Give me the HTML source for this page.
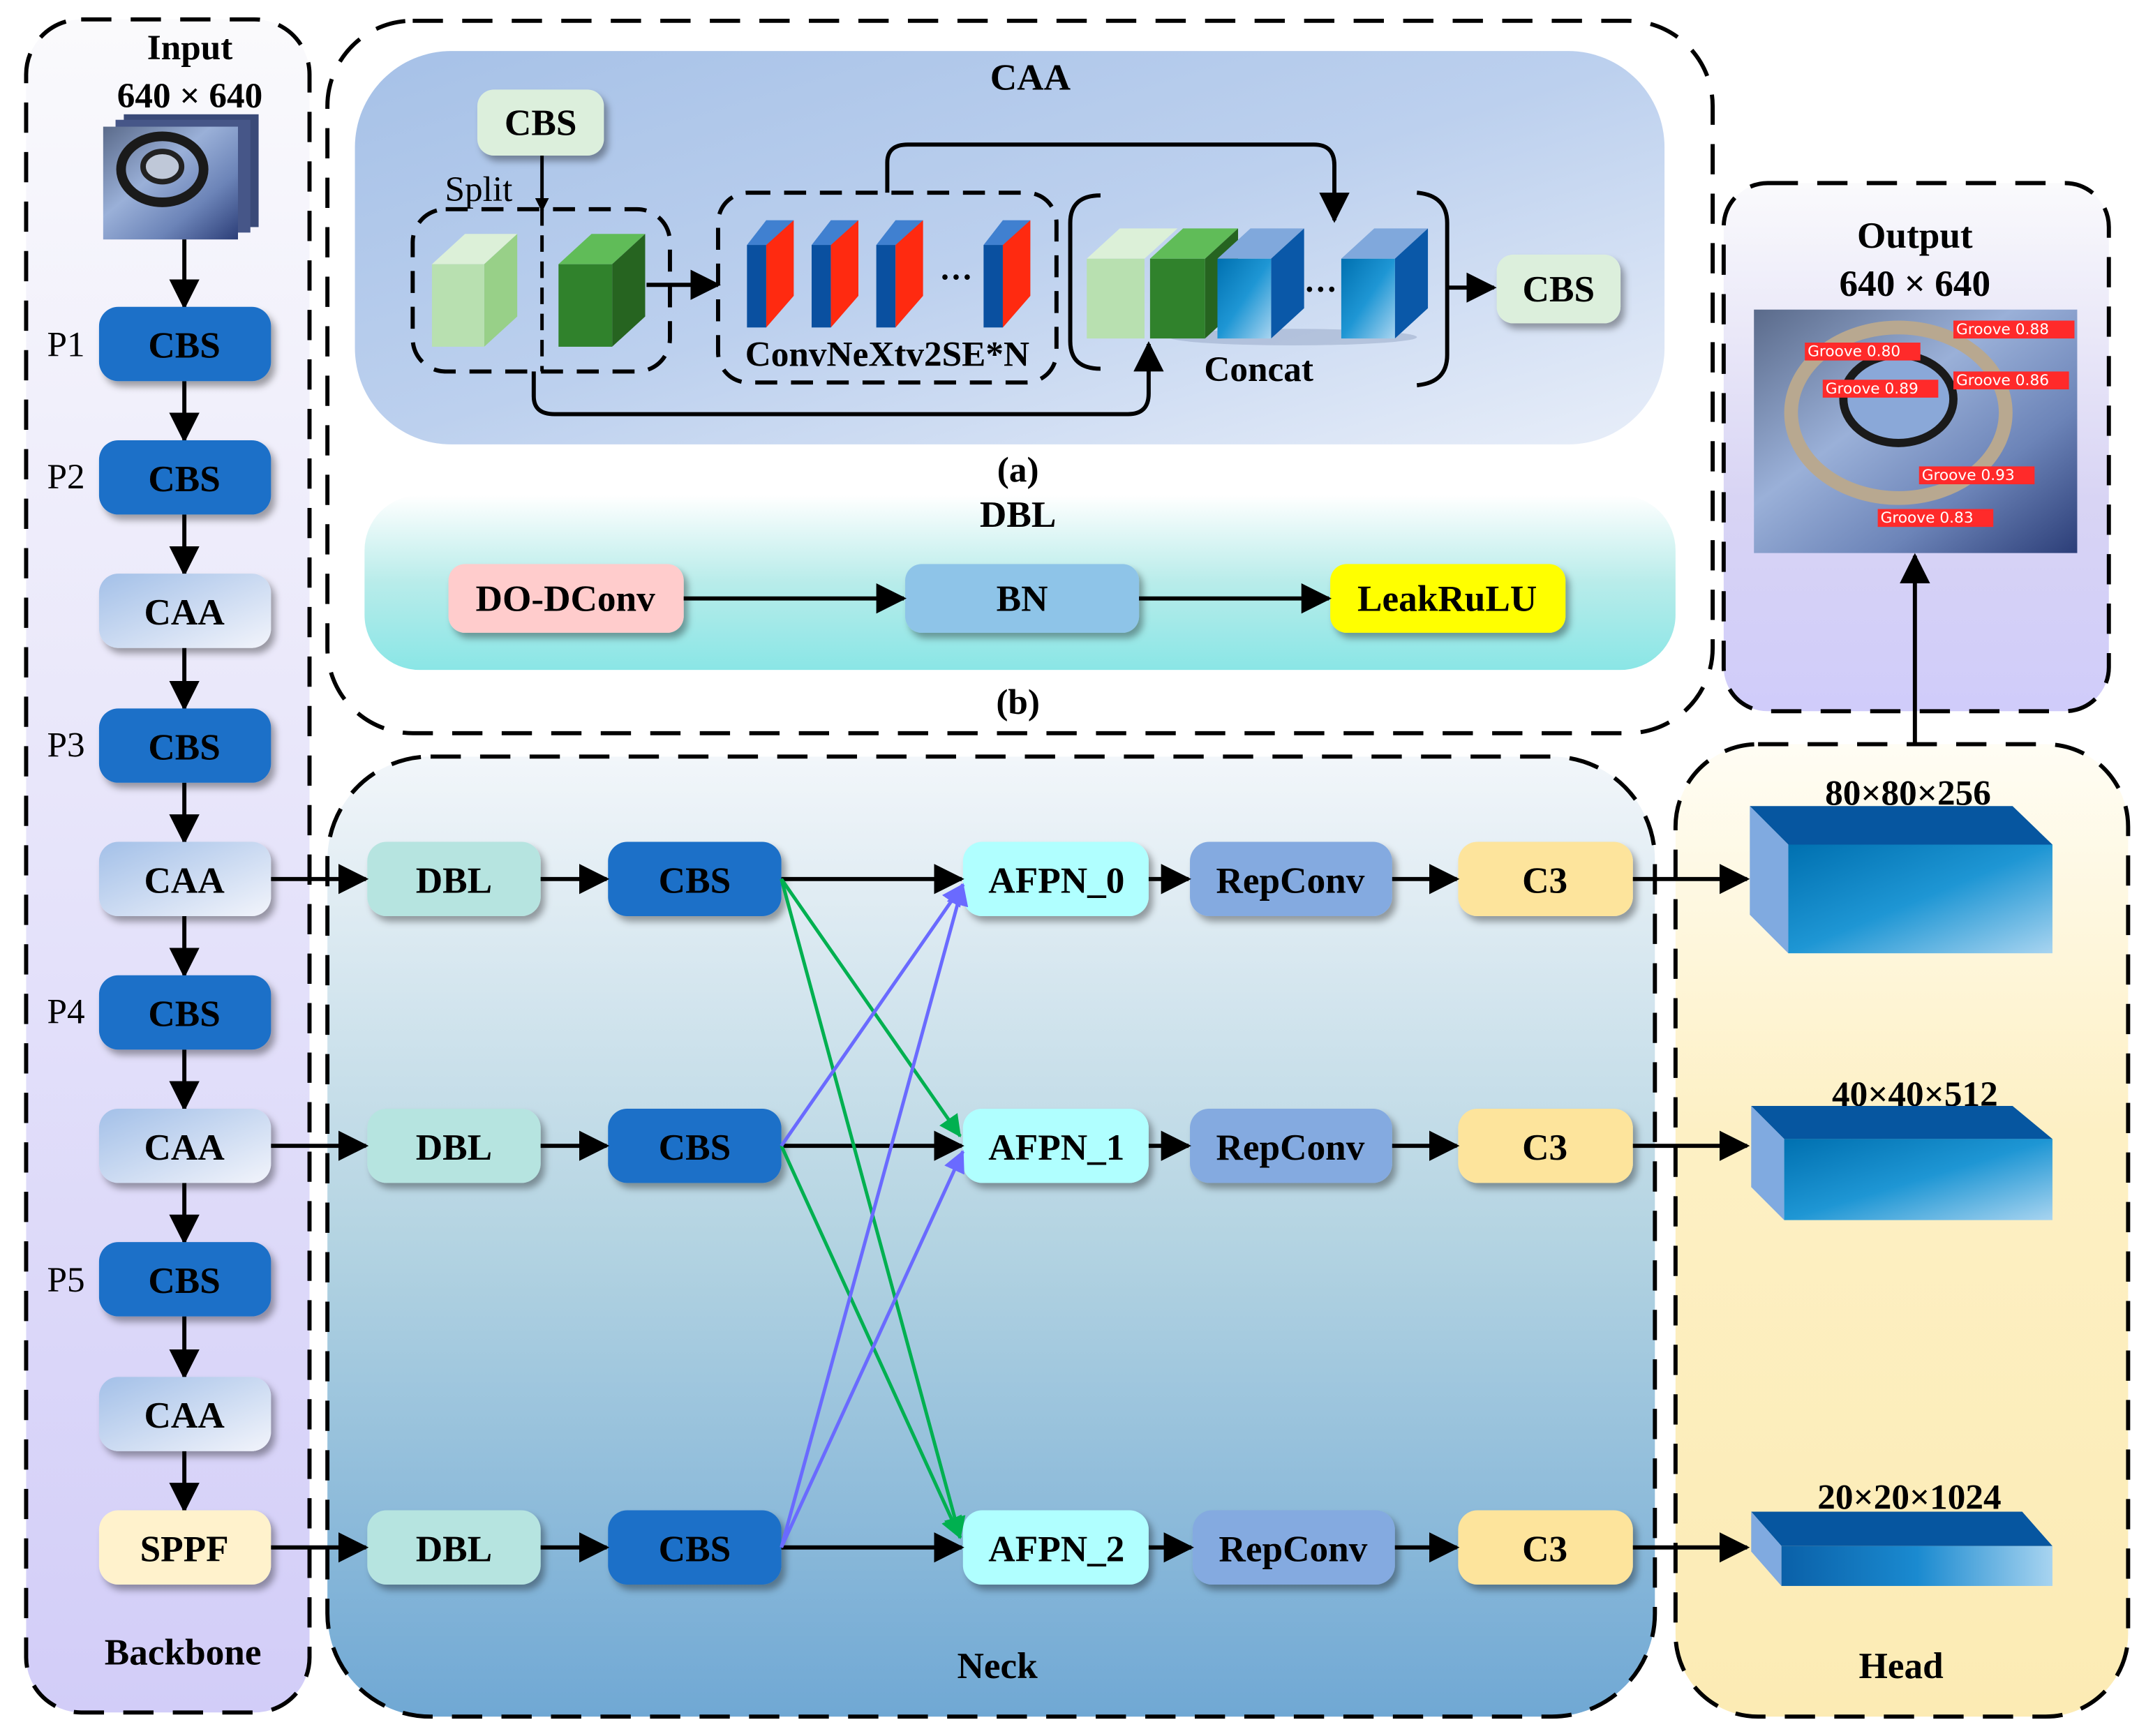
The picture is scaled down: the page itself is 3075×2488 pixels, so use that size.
<!DOCTYPE html>
<html><head><meta charset="utf-8"><style>
html,body{margin:0;padding:0;background:#fff}
svg{display:block}
text{font-family:"Liberation Serif",serif;font-weight:bold;fill:#000}
</style></head><body>
<svg width="3075" height="2488" viewBox="0 0 1560 1262" xmlns="http://www.w3.org/2000/svg">
<defs>
<linearGradient id="gBack" x1="0" y1="0" x2="0" y2="1"><stop offset="0" stop-color="#fafafc"/><stop offset="1" stop-color="#d2cdf8"/></linearGradient>
<linearGradient id="gCAA" x1="0" y1="0" x2="1" y2="1"><stop offset="0" stop-color="#a6c1e7"/><stop offset="0.5" stop-color="#bcd0ee"/><stop offset="1" stop-color="#e8eef9"/></linearGradient>
<linearGradient id="gDBL" x1="0" y1="0" x2="0" y2="1"><stop offset="0" stop-color="#ffffff"/><stop offset="0.5" stop-color="#b8ecea"/><stop offset="1" stop-color="#8ae6e6"/></linearGradient>
<linearGradient id="gOut" x1="0" y1="0" x2="0" y2="1"><stop offset="0" stop-color="#fafafc"/><stop offset="0.6" stop-color="#d8d4f4"/><stop offset="1" stop-color="#d0ccfa"/></linearGradient>
<linearGradient id="gNeck" x1="0" y1="0" x2="0" y2="1"><stop offset="0" stop-color="#f2f6fa"/><stop offset="0.5" stop-color="#b4d4e2"/><stop offset="1" stop-color="#70a8d4"/></linearGradient>
<linearGradient id="gHead" x1="0" y1="0" x2="0" y2="1"><stop offset="0" stop-color="#fffdf4"/><stop offset="0.4" stop-color="#fdf0c4"/><stop offset="1" stop-color="#fcebb4"/></linearGradient>
<linearGradient id="gCaaBox" x1="0" y1="0" x2="1" y2="1"><stop offset="0" stop-color="#a3c0e8"/><stop offset="1" stop-color="#f2f4fb"/></linearGradient>
<linearGradient id="gFront" x1="0" y1="0" x2="1" y2="1"><stop offset="0" stop-color="#0070b0"/><stop offset="0.5" stop-color="#1e96d4"/><stop offset="1" stop-color="#a8d4f0"/></linearGradient>
<linearGradient id="gFront2" x1="0" y1="0" x2="1" y2="0"><stop offset="0" stop-color="#0a60a8"/><stop offset="0.5" stop-color="#1a8ad0"/><stop offset="1" stop-color="#a8d4f0"/></linearGradient>
<linearGradient id="gImg" x1="0" y1="0" x2="1" y2="1"><stop offset="0" stop-color="#5a6a8a"/><stop offset="0.4" stop-color="#9ab0d8"/><stop offset="0.7" stop-color="#6c84b8"/><stop offset="1" stop-color="#2c3e78"/></linearGradient>
<filter id="sh" x="-20%" y="-20%" width="150%" height="160%"><feDropShadow dx="3" dy="4" stdDeviation="2.5" flood-color="#000" flood-opacity="0.35"/></filter>
<marker id="ar" markerWidth="10" markerHeight="10" refX="9" refY="5" orient="auto" markerUnits="userSpaceOnUse" viewBox="0 0 10 10"><path d="M0,0 L10,5 L0,10 z" fill="#000"/></marker>
<marker id="arB" markerWidth="22" markerHeight="22" refX="20" refY="11" orient="auto" markerUnits="userSpaceOnUse" viewBox="0 0 22 22"><path d="M0,0 L22,11 L0,22 z" fill="#000"/></marker>
<marker id="arG" markerWidth="16" markerHeight="16" refX="15" refY="8" orient="auto" markerUnits="userSpaceOnUse" viewBox="0 0 16 16"><path d="M0,0 L16,8 L0,16 z" fill="#00b050"/></marker>
<marker id="arP" markerWidth="16" markerHeight="16" refX="15" refY="8" orient="auto" markerUnits="userSpaceOnUse" viewBox="0 0 16 16"><path d="M0,0 L16,8 L0,16 z" fill="#6a6aff"/></marker>
</defs>

<!-- Panels -->
<rect x="19" y="14" width="206" height="1231" rx="40" fill="url(#gBack)" stroke="#000" stroke-width="3" stroke-dasharray="22,14"/>
<rect x="238" y="15" width="1007" height="518" rx="62" fill="#fff" stroke="#000" stroke-width="3" stroke-dasharray="22,14"/>
<rect x="258" y="37" width="952" height="286" rx="70" fill="url(#gCAA)"/>
<rect x="265" y="360" width="953" height="127" rx="40" fill="url(#gDBL)"/>
<rect x="1253" y="133" width="280" height="384" rx="32" fill="url(#gOut)" stroke="#000" stroke-width="3" stroke-dasharray="22,14"/>
<rect x="238" y="550" width="965" height="698" rx="75" fill="url(#gNeck)" stroke="#000" stroke-width="3" stroke-dasharray="22,14"/>
<rect x="1218" y="541" width="329" height="707" rx="60" fill="url(#gHead)" stroke="#000" stroke-width="3" stroke-dasharray="22,14"/>

<!-- Backbone -->
<text x="138" y="43" font-size="26" text-anchor="middle">Input</text>
<text x="138" y="78" font-size="26" text-anchor="middle">640 × 640</text>
<rect x="90" y="83" width="98" height="82" fill="#3a4a78"/>
<rect x="84" y="87" width="98" height="82" fill="#465688"/>
<rect x="75" y="92" width="98" height="82" fill="url(#gImg)"/>
<ellipse cx="118" cy="123" rx="30" ry="24" fill="none" stroke="#1a1a1a" stroke-width="7"/>
<ellipse cx="118" cy="121" rx="14" ry="11" fill="#bfc8d8" stroke="#222" stroke-width="4"/>
<text x="48" y="259" font-size="26" font-weight="normal" text-anchor="middle" style="font-weight:normal">P1</text>
<text x="48" y="355" font-size="26" text-anchor="middle" style="font-weight:normal">P2</text>
<text x="48" y="550" font-size="26" text-anchor="middle" style="font-weight:normal">P3</text>
<text x="48" y="744" font-size="26" text-anchor="middle" style="font-weight:normal">P4</text>
<text x="48" y="939" font-size="26" text-anchor="middle" style="font-weight:normal">P5</text>
<g stroke="#000" stroke-width="3" fill="none" marker-end="url(#arB)">
<line x1="134" y1="174" x2="134" y2="223"/>
<line x1="134" y1="277" x2="134" y2="320"/>
<line x1="134" y1="374" x2="134" y2="417"/>
<line x1="134" y1="471" x2="134" y2="515"/>
<line x1="134" y1="569" x2="134" y2="612"/>
<line x1="134" y1="666" x2="134" y2="709"/>
<line x1="134" y1="763" x2="134" y2="806"/>
<line x1="134" y1="860" x2="134" y2="903"/>
<line x1="134" y1="957" x2="134" y2="1001"/>
<line x1="134" y1="1055" x2="134" y2="1098"/>
</g>
<g filter="url(#sh)">
<rect x="72" y="223" width="125" height="54" rx="14" fill="#1e70c8"/>
<rect x="72" y="320" width="125" height="54" rx="14" fill="#1e70c8"/>
<rect x="72" y="417" width="125" height="54" rx="14" fill="url(#gCaaBox)"/>
<rect x="72" y="515" width="125" height="54" rx="14" fill="#1e70c8"/>
<rect x="72" y="612" width="125" height="54" rx="14" fill="url(#gCaaBox)"/>
<rect x="72" y="709" width="125" height="54" rx="14" fill="#1e70c8"/>
<rect x="72" y="806" width="125" height="54" rx="14" fill="url(#gCaaBox)"/>
<rect x="72" y="903" width="125" height="54" rx="14" fill="#1e70c8"/>
<rect x="72" y="1001" width="125" height="54" rx="14" fill="url(#gCaaBox)"/>
<rect x="72" y="1098" width="125" height="54" rx="14" fill="#fff2cc"/>
</g>
<g font-size="27" text-anchor="middle">
<text x="134" y="260">CBS</text><text x="134" y="357">CBS</text><text x="134" y="454">CAA</text>
<text x="134" y="552">CBS</text><text x="134" y="649">CAA</text><text x="134" y="746">CBS</text>
<text x="134" y="843">CAA</text><text x="134" y="940">CBS</text><text x="134" y="1038">CAA</text>
<text x="134" y="1135">SPPF</text>
</g>
<text x="133" y="1210" font-size="27" text-anchor="middle">Backbone</text>

<!-- CAA module (a) -->
<text x="749" y="65" font-size="27" text-anchor="middle">CAA</text>
<rect x="347" y="65" width="92" height="48" rx="12" fill="#dcefdc" filter="url(#sh)"/>
<text x="393" y="98" font-size="27" text-anchor="middle">CBS</text>
<text x="348" y="146" font-size="26" text-anchor="middle" style="font-weight:normal">Split</text>
<rect x="300" y="152" width="187" height="118" rx="24" fill="none" stroke="#000" stroke-width="3" stroke-dasharray="16,10"/>
<line x1="394" y1="152" x2="394" y2="270" stroke="#000" stroke-width="2.5" stroke-dasharray="12,7"/>
<line x1="394" y1="113" x2="394" y2="153" stroke="#000" stroke-width="2.5" marker-end="url(#ar)"/>
<!-- split cubes -->
<polygon points="314,192 338,170 376,170 352,192" fill="#dcf0d8"/>
<polygon points="352,192 376,170 376,230 352,252" fill="#98d088"/>
<rect x="314" y="192" width="38" height="60" fill="#b8e0b0"/>
<polygon points="406,192 430,170 469,170 445,192" fill="#60bc58"/>
<polygon points="445,192 469,170 469,230 445,252" fill="#266420"/>
<rect x="406" y="192" width="39" height="60" fill="#30822c"/>
<line x1="470" y1="207" x2="522" y2="207" stroke="#000" stroke-width="3" marker-end="url(#arB)"/>
<!-- ConvNeXt -->
<rect x="522" y="140" width="246" height="138" rx="22" fill="none" stroke="#000" stroke-width="3" stroke-dasharray="16,10"/>
<g>
<polygon points="543,178 557,160 577,160 563,178" fill="#4080d0"/>
<rect x="543" y="178" width="14" height="60" fill="#0a50a0"/><polygon points="557,178 577,160 577,215 557,238" fill="#ff2a10"/>
<polygon points="590,178 604,160 624,160 610,178" fill="#4080d0"/>
<rect x="590" y="178" width="14" height="60" fill="#0a50a0"/><polygon points="604,178 624,160 624,215 604,238" fill="#ff2a10"/>
<polygon points="637,178 651,160 671,160 657,178" fill="#4080d0"/>
<rect x="637" y="178" width="14" height="60" fill="#0a50a0"/><polygon points="651,178 671,160 671,215 651,238" fill="#ff2a10"/>
<polygon points="715,178 729,160 749,160 735,178" fill="#4080d0"/>
<rect x="715" y="178" width="14" height="60" fill="#0a50a0"/><polygon points="729,178 749,160 749,215 729,238" fill="#ff2a10"/>
</g>
<text x="695" y="203" font-size="24" text-anchor="middle">…</text>
<text x="645" y="266" font-size="26" text-anchor="middle">ConvNeXtv2SE*N</text>
<!-- loops -->
<path d="M645,140 V118 Q645,105 660,105 H955 Q970,105 970,120 V160" fill="none" stroke="#000" stroke-width="3" marker-end="url(#arB)"/>
<path d="M388,270 V288 Q388,301 403,301 H820 Q835,301 835,286 V250" fill="none" stroke="#000" stroke-width="3" marker-end="url(#arB)"/>
<!-- concat brackets -->
<path d="M800,142 Q778,142 778,162 V248 Q778,268 800,268" fill="none" stroke="#000" stroke-width="3"/>
<path d="M1030,140 Q1052,142 1052,162 V258 Q1052,278 1030,280" fill="none" stroke="#000" stroke-width="3"/>
<ellipse cx="940" cy="245" rx="90" ry="6" fill="#8898b8" opacity="0.4"/>
<polygon points="790,188 814,166 856,166 832,188" fill="#dcf0d8"/>
<rect x="790" y="188" width="42" height="58" fill="#b8e0b0"/>
<polygon points="836,188 860,166 900,166 876,188" fill="#60bc58"/>
<polygon points="876,188 900,166 900,224 876,246" fill="#266420"/>
<rect x="836" y="188" width="40" height="58" fill="#30822c"/>
<polygon points="885,188 909,166 948,166 924,188" fill="#80a8dc"/>
<polygon points="924,188 948,166 948,224 924,246" fill="#0a58a8"/>
<rect x="885" y="188" width="39" height="58" fill="url(#gFront)"/>
<text x="960" y="212" font-size="24" text-anchor="middle">…</text>
<polygon points="975,188 999,166 1038,166 1014,188" fill="#80a8dc"/>
<polygon points="1014,188 1038,166 1038,224 1014,246" fill="#0a58a8"/>
<rect x="975" y="188" width="39" height="58" fill="url(#gFront)"/>
<text x="915" y="277" font-size="26" text-anchor="middle">Concat</text>
<line x1="1052" y1="209" x2="1086" y2="209" stroke="#000" stroke-width="3" marker-end="url(#arB)"/>
<rect x="1088" y="185" width="90" height="50" rx="12" fill="#dcefdc" filter="url(#sh)"/>
<text x="1133" y="219" font-size="27" text-anchor="middle">CBS</text>
<text x="740" y="350" font-size="26" text-anchor="middle">(a)</text>

<!-- DBL (b) -->
<text x="740" y="383" font-size="27" text-anchor="middle">DBL</text>
<rect x="326" y="410" width="171" height="50" rx="12" fill="#ffcccc" filter="url(#sh)"/>
<rect x="658" y="410" width="170" height="50" rx="12" fill="#8ec4e8" filter="url(#sh)"/>
<rect x="967" y="410" width="171" height="50" rx="12" fill="#ffff00" filter="url(#sh)"/>
<text x="411" y="444" font-size="27" text-anchor="middle">DO-DConv</text>
<text x="743" y="444" font-size="27" text-anchor="middle">BN</text>
<text x="1052" y="444" font-size="27" text-anchor="middle">LeakRuLU</text>
<line x1="497" y1="435" x2="657" y2="435" stroke="#000" stroke-width="3" marker-end="url(#arB)"/>
<line x1="828" y1="435" x2="966" y2="435" stroke="#000" stroke-width="3" marker-end="url(#arB)"/>
<text x="740" y="519" font-size="26" text-anchor="middle">(b)</text>

<!-- Output -->
<text x="1392" y="180" font-size="27" text-anchor="middle">Output</text>
<text x="1392" y="215" font-size="27" text-anchor="middle">640 × 640</text>
<rect x="1275" y="225" width="235" height="177" fill="url(#gImg)"/>
<ellipse cx="1380" cy="300" rx="78" ry="62" fill="none" stroke="#b8a890" stroke-width="10"/>
<ellipse cx="1380" cy="290" rx="40" ry="32" fill="#8aa8d8" stroke="#1a1a1a" stroke-width="6"/>
<g font-family="DejaVu Sans, sans-serif" font-size="11" font-weight="normal">
<rect x="1312" y="249" width="84" height="13" fill="#ff2a2a"/><text x="1314" y="259" style="fill:#fff;font-family:'DejaVu Sans',sans-serif;font-weight:normal">Groove 0.80</text>
<rect x="1420" y="233" width="88" height="13" fill="#ff2a2a"/><text x="1422" y="243" style="fill:#fff;font-family:'DejaVu Sans',sans-serif;font-weight:normal">Groove 0.88</text>
<rect x="1325" y="276" width="84" height="13" fill="#ff2a2a"/><text x="1327" y="286" style="fill:#fff;font-family:'DejaVu Sans',sans-serif;font-weight:normal">Groove 0.89</text>
<rect x="1420" y="270" width="84" height="13" fill="#ff2a2a"/><text x="1422" y="280" style="fill:#fff;font-family:'DejaVu Sans',sans-serif;font-weight:normal">Groove 0.86</text>
<rect x="1395" y="339" width="84" height="13" fill="#ff2a2a"/><text x="1397" y="349" style="fill:#fff;font-family:'DejaVu Sans',sans-serif;font-weight:normal">Groove 0.93</text>
<rect x="1365" y="370" width="84" height="13" fill="#ff2a2a"/><text x="1367" y="380" style="fill:#fff;font-family:'DejaVu Sans',sans-serif;font-weight:normal">Groove 0.83</text>
</g>
<line x1="1392" y1="541" x2="1392" y2="404" stroke="#000" stroke-width="3" marker-end="url(#arB)"/>

<!-- Neck -->
<g filter="url(#sh)">
<rect x="267" y="612" width="126" height="54" rx="14" fill="#b6e4e0"/>
<rect x="442" y="612" width="126" height="54" rx="14" fill="#1e70c8"/>
<rect x="700" y="612" width="135" height="54" rx="14" fill="#b0ffff"/>
<rect x="865" y="612" width="147" height="54" rx="14" fill="#84aae0"/>
<rect x="1060" y="612" width="127" height="54" rx="14" fill="#fde49c"/>
<rect x="267" y="806" width="126" height="54" rx="14" fill="#b6e4e0"/>
<rect x="442" y="806" width="126" height="54" rx="14" fill="#1e70c8"/>
<rect x="700" y="806" width="135" height="54" rx="14" fill="#b0ffff"/>
<rect x="865" y="806" width="147" height="54" rx="14" fill="#84aae0"/>
<rect x="1060" y="806" width="127" height="54" rx="14" fill="#fde49c"/>
<rect x="267" y="1098" width="126" height="54" rx="14" fill="#b6e4e0"/>
<rect x="442" y="1098" width="126" height="54" rx="14" fill="#1e70c8"/>
<rect x="700" y="1098" width="135" height="54" rx="14" fill="#b0ffff"/>
<rect x="867" y="1098" width="147" height="54" rx="14" fill="#84aae0"/>
<rect x="1060" y="1098" width="127" height="54" rx="14" fill="#fde49c"/>
</g>
<g font-size="27" text-anchor="middle">
<text x="330" y="649">DBL</text><text x="505" y="649">CBS</text><text x="768" y="649">AFPN_0</text><text x="938" y="649">RepConv</text><text x="1123" y="649">C3</text>
<text x="330" y="843">DBL</text><text x="505" y="843">CBS</text><text x="768" y="843">AFPN_1</text><text x="938" y="843">RepConv</text><text x="1123" y="843">C3</text>
<text x="330" y="1135">DBL</text><text x="505" y="1135">CBS</text><text x="768" y="1135">AFPN_2</text><text x="940" y="1135">RepConv</text><text x="1123" y="1135">C3</text>
</g>
<g stroke="#000" stroke-width="3" marker-end="url(#arB)">
<line x1="197" y1="639" x2="266" y2="639"/><line x1="393" y1="639" x2="441" y2="639"/><line x1="568" y1="639" x2="699" y2="639"/><line x1="835" y1="639" x2="864" y2="639"/><line x1="1012" y1="639" x2="1059" y2="639"/><line x1="1187" y1="639" x2="1270" y2="639"/>
<line x1="197" y1="833" x2="266" y2="833"/><line x1="393" y1="833" x2="441" y2="833"/><line x1="568" y1="833" x2="699" y2="833"/><line x1="835" y1="833" x2="864" y2="833"/><line x1="1012" y1="833" x2="1059" y2="833"/><line x1="1187" y1="833" x2="1270" y2="833"/>
<line x1="197" y1="1125" x2="266" y2="1125"/><line x1="393" y1="1125" x2="441" y2="1125"/><line x1="568" y1="1125" x2="699" y2="1125"/><line x1="835" y1="1125" x2="866" y2="1125"/><line x1="1014" y1="1125" x2="1059" y2="1125"/><line x1="1187" y1="1125" x2="1270" y2="1125"/>
</g>
<g stroke="#00b050" stroke-width="2.5" marker-end="url(#arG)">
<line x1="568" y1="639" x2="698" y2="826"/>
<line x1="568" y1="639" x2="698" y2="1118"/>
<line x1="568" y1="833" x2="698" y2="1118"/>
</g>
<g stroke="#6a6aff" stroke-width="2.5" marker-end="url(#arP)">
<line x1="568" y1="833" x2="700" y2="643"/>
<line x1="568" y1="1125" x2="700" y2="643"/>
<line x1="568" y1="1125" x2="700" y2="837"/>
</g>
<text x="725" y="1220" font-size="27" text-anchor="middle">Neck</text>

<!-- Head -->
<text x="1387" y="585" font-size="26" text-anchor="middle">80×80×256</text>
<polygon points="1272,586 1463,586 1492,614 1300,614" fill="#0656a0"/>
<polygon points="1272,586 1300,614 1300,693 1272,665" fill="#80aae0"/>
<rect x="1300" y="614" width="192" height="79" fill="url(#gFront)"/>
<text x="1392" y="804" font-size="26" text-anchor="middle">40×40×512</text>
<polygon points="1273,804 1463,804 1492,828 1297,828" fill="#0656a0"/>
<polygon points="1273,804 1297,828 1297,887 1273,863" fill="#80aae0"/>
<rect x="1297" y="828" width="195" height="59" fill="url(#gFront)"/>
<text x="1388" y="1097" font-size="26" text-anchor="middle">20×20×1024</text>
<polygon points="1273,1099 1470,1099 1492,1124 1295,1124" fill="#0656a0"/>
<polygon points="1273,1099 1295,1124 1295,1153 1273,1128" fill="#80aae0"/>
<rect x="1295" y="1124" width="197" height="29" fill="url(#gFront2)"/>
<text x="1382" y="1220" font-size="27" text-anchor="middle">Head</text>
</svg>
</body></html>
